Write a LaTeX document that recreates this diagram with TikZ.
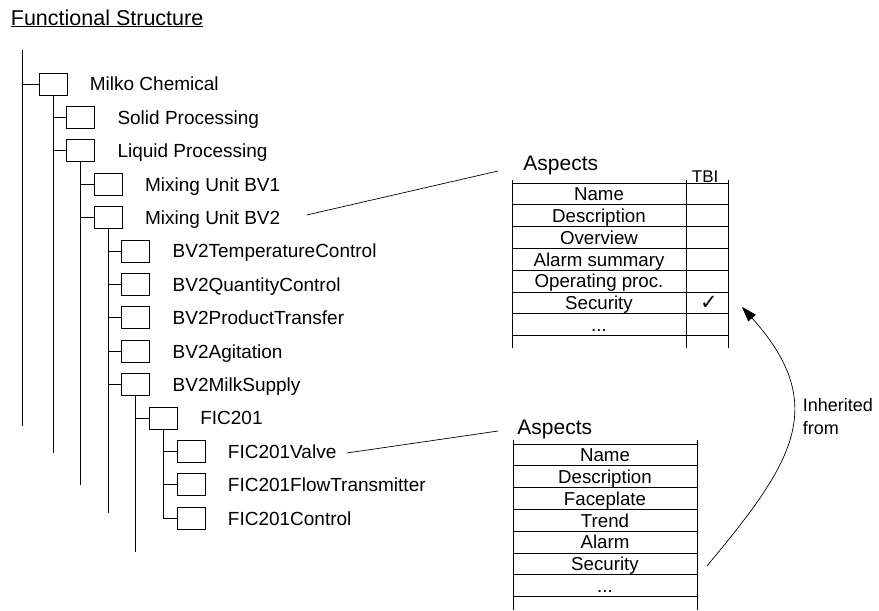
\documentclass[tikz,border=0pt]{standalone}
\usepackage{fontspec}
\setmainfont{Liberation Sans}
\newfontfamily\symfont{DejaVu Sans}
\usetikzlibrary{positioning,arrows.meta}

\newcommand{\rowdots}{...}

\tikzset{
  obj/.style={draw, minimum width=28pt, minimum height=22pt, inner sep=0pt, outer sep=0pt},
  objname/.style={inner sep=0pt, text height=13.6pt, text depth=0pt, font=\fontsize{19}{19}\selectfont},
  cell/.style={draw, minimum height=21.8pt, inner sep=0pt, outer sep=0pt,
    text height=13.4pt, text depth=0pt, font=\fontsize{18.7}{18.7}\selectfont},
  heading/.style={inner sep=0pt, anchor=base west, font=\fontsize{21}{21}\selectfont},
}

\begin{document}
\begin{tikzpicture}[x=1pt,y=-1pt,line width=0.8pt]
\useasboundingbox (0,0) rectangle (879,611);

\node[heading, font=\fontsize{21.5}{21.5}\selectfont] (title) at (10.5,25) {\underline{Functional Structure}};

% object tree
\coordinate (root) at (22,50);
\coordinate (rootend) at (22,426);
\draw (root) -- (rootend);
\foreach \n/\lvl/\p/\txt in {
    0/0/root/Milko Chemical,
    1/1/b0/Solid Processing,
    2/1/b0/Liquid Processing,
    3/2/b2/Mixing Unit BV1,
    4/2/b2/Mixing Unit BV2,
    5/3/b4/BV2TemperatureControl,
    6/3/b4/BV2QuantityControl,
    7/3/b4/BV2ProductTransfer,
    8/3/b4/BV2Agitation,
    9/3/b4/BV2MilkSupply,
    10/4/b9/FIC201,
    11/5/b10/FIC201Valve,
    12/5/b10/FIC201FlowTransmitter,
    13/5/b10/FIC201Control}
{
  \node[obj] (b\n) at (53+27.6*\lvl, 84+33.4*\n) {};
  \node[objname, right=22.5pt of b\n] (t\n) {\txt};
  \draw (b\n.west) -- (b\n.west -| \p);
}
\foreach \b/\y in {b0/453, b2/485, b4/513, b9/552}
  \draw (\b.south) -- (\b.south |- 0,\y);
\draw (b10.south) -- (b10.south |- b13.west);

% aspects of Mixing Unit BV2
\node[heading] (ahead1) at (523,170) {Aspects};
\node[heading, font=\fontsize{17}{17}\selectfont] (tbi) at (691.5,182) {TBI};
\node[cell, minimum width=174pt] (ua1) at (599,193.9) {Name};
\foreach \i/\j/\txt in {2/1/Description, 3/2/Overview, 4/3/Alarm summary,
    5/4/Operating proc., 6/5/Security, 7/6/\rowdots}
  \node[cell, minimum width=174pt, below=0pt of ua\j] (ua\i) {\txt};
\foreach \i in {1,...,7}
  \node[cell, minimum width=42pt, right=0pt of ua\i] (ub\i) {};
\node[inner sep=0pt, font=\symfont\fontsize{21}{21}\selectfont] (tick) at ([xshift=2pt]ub6.center) {✓};
\draw ([yshift=3pt]ua1.north west) -- ([yshift=-12pt]ua7.south west);
\draw ([yshift=3pt]ub1.north west) -- ([yshift=-12pt]ub7.south west);
\draw ([yshift=3pt]ub1.north east) -- ([yshift=-12pt]ub7.south east);

% aspects of FIC201Valve
\node[heading] (ahead2) at (517,434) {Aspects};
\node[cell, minimum width=184pt] (la1) at (605,454.9) {Name};
\foreach \i/\j/\txt in {2/1/Description, 3/2/Faceplate, 4/3/Trend,
    5/4/Alarm, 6/5/Security, 7/6/\rowdots}
  \node[cell, minimum width=184pt, below=0pt of la\j] (la\i) {\txt};
\draw ([yshift=4pt]la1.north west) -- ([yshift=-13pt]la7.south west);
\draw ([yshift=4pt]la1.north east) -- ([yshift=-13pt]la7.south east);

% pointers from the objects to their aspects
\draw[line width=0.7pt] ([xshift=26pt,yshift=2.6pt]t4.east) -- ([xshift=-25pt,yshift=-1pt]ahead1.base west);
\draw[line width=0.7pt] ([xshift=10pt,yshift=-1.6pt]t11.east) -- ([xshift=-19pt,yshift=3pt]ahead2.base west);

% inheritance
\coordinate (arrS) at ([xshift=10pt,yshift=-2pt]la6.east);
\coordinate (arrE) at ([xshift=14pt,yshift=-4pt]ub6.east);
\draw[line width=0.7pt, -{Triangle[length=15pt,width=10pt]}] (arrS)
  .. controls ([shift={(85,-102)}]arrS) and ([shift={(89,99)}]arrE) .. (arrE);
\node[anchor=north west, align=left, inner sep=0pt, font=\fontsize{18}{22.6}\selectfont] (inh) at (802.5,398) {Inherited\\from};
\end{tikzpicture}
\end{document}
